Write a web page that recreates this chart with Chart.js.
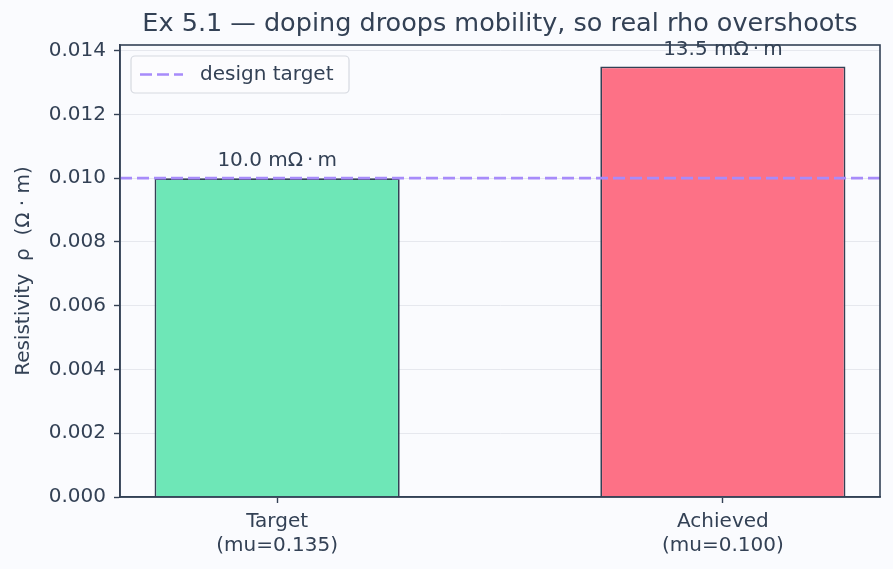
<!DOCTYPE html>
<html>
<head>
<meta charset="utf-8">
<script src="https://cdn.jsdelivr.net/npm/chart.js@4/dist/chart.umd.min.js"></script>
<style>
  html, body { margin: 0; padding: 0; background: #fafbfe; }
  #wrap { width: 893px; height: 569px; }
</style>
</head>
<body>
<div id="wrap"><canvas id="mainChart" width="893" height="569"></canvas></div>
<script>
// data
const categories = ['Target', 'Achieved'];
const mobility = ['0.135', '0.100'];
const resistivity = [0.0100, 0.0135];
const designTarget = 0.0100;
const barColors = ['#6ee7b7', '#fd7186'];
const yTicks = [0, 0.002, 0.004, 0.006, 0.008, 0.010, 0.012, 0.014];

const titleText = 'Ex 5.1 \u2014 doping droops mobility, so real rho overshoots';
const ink = '#334155';
const font = 'DejaVu Sans';

// matplotlib-ish limits
const xMin = -0.275 - 0.0775;
const xMax = 1.275 + 0.0775;
const yMax = Math.max(...resistivity) * 1.05;

const chartCtx = document.getElementById('mainChart').getContext('2d');

// title, frame, value labels, legend
const extras = {
  id: 'extras',
  afterDraw(chart) {
    const {ctx, chartArea: a, scales: {x, y}} = chart;
    ctx.save();

    // frame on all four sides
    ctx.strokeStyle = ink;
    ctx.lineWidth = 1.6;
    ctx.strokeRect(a.left, a.top, a.right - a.left, a.bottom - a.top);

    // title centred on the plot
    ctx.fillStyle = ink;
    ctx.font = '25.5px "' + font + '"';
    ctx.textAlign = 'center';
    ctx.textBaseline = 'middle';
    ctx.fillText(titleText, (a.left + a.right) / 2, 24);

    // value labels over bars
    ctx.font = '20px "' + font + '"';
    ctx.textBaseline = 'bottom';
    resistivity.forEach((v, i) => {
      const label = (v * 1000).toFixed(1) + ' m\u03a9\u2009\u00b7\u2009m';
      ctx.fillText(label, x.getPixelForValue(i), y.getPixelForValue(v) - 7);
    });

    // legend box
    const lx = a.left + 11, ly = a.top + 11, lw = 218, lh = 37;
    ctx.beginPath();
    ctx.roundRect(lx, ly, lw, lh, 4);
    ctx.fillStyle = 'rgba(252,252,254,0.85)';
    ctx.fill();
    ctx.strokeStyle = '#d6d9e0';
    ctx.lineWidth = 1.2;
    ctx.stroke();

    const ds = chart.data.datasets[0];
    ctx.beginPath();
    ctx.setLineDash(ds.borderDash);
    ctx.strokeStyle = ds.borderColor;
    ctx.lineWidth = ds.borderWidth;
    ctx.moveTo(lx + 9, ly + lh / 2);
    ctx.lineTo(lx + 52, ly + lh / 2);
    ctx.stroke();
    ctx.setLineDash([]);

    ctx.fillStyle = ink;
    ctx.textAlign = 'left';
    ctx.textBaseline = 'middle';
    ctx.fillText(ds.label, lx + 69, ly + lh / 2);

    ctx.restore();
  }
};

new Chart(chartCtx, {
  data: {
    datasets: [
      {
        type: 'line',
        label: 'design target',
        data: [{x: xMin, y: designTarget}, {x: xMax, y: designTarget}],
        borderColor: '#a78bfa',
        borderWidth: 2.6,
        borderDash: [12, 5],
        pointRadius: 0,
        order: 0
      },
      {
        type: 'bar',
        label: 'resistivity',
        data: resistivity.map((v, i) => ({x: i, y: v})),
        backgroundColor: barColors,
        borderColor: ink,
        borderWidth: 1.8,
        barPercentage: 0.55,
        categoryPercentage: 1,
        order: 1
      }
    ]
  },
  options: {
    responsive: false,
    animation: false,
    layout: { padding: { top: 45, left: 0, right: 13, bottom: 0 } },
    plugins: {
      legend: { display: false },
      title: { display: false },
      tooltip: { enabled: false }
    },
    scales: {
      x: {
        type: 'linear',
        min: xMin,
        max: xMax,
        offset: false,
        afterBuildTicks: s => { s.ticks = categories.map((c, i) => ({value: i})); },
        afterFit: s => { s.height = 72; },
        border: { color: ink, width: 1.6 },
        grid: { offset: false, drawOnChartArea: false, tickColor: ink, tickLength: 6, tickWidth: 1.4 },
        ticks: {
          color: ink,
          padding: 7,
          maxRotation: 0,
          font: { family: font, size: 20 },
          callback: v => [categories[v], '(mu=' + mobility[v] + ')']
        }
      },
      y: {
        min: 0,
        max: yMax,
        afterBuildTicks: s => { s.ticks = yTicks.map(v => ({value: v})); },
        afterFit: s => { s.width = 120; },
        border: { color: ink, width: 1.6 },
        grid: { color: '#e6e8ee', lineWidth: 1, tickColor: ink, tickLength: 6, tickWidth: 1.4 },
        ticks: {
          color: ink,
          padding: 8,
          font: { family: font, size: 20 },
          callback: v => v.toFixed(3)
        },
        title: {
          display: true,
          text: 'Resistivity  \u03c1  (\u03a9 \u00b7 m)',
          color: ink,
          padding: { top: 12, bottom: 0 },
          font: { family: font, size: 20 }
        }
      }
    }
  },
  plugins: [extras]
});
</script>
</body>
</html>
